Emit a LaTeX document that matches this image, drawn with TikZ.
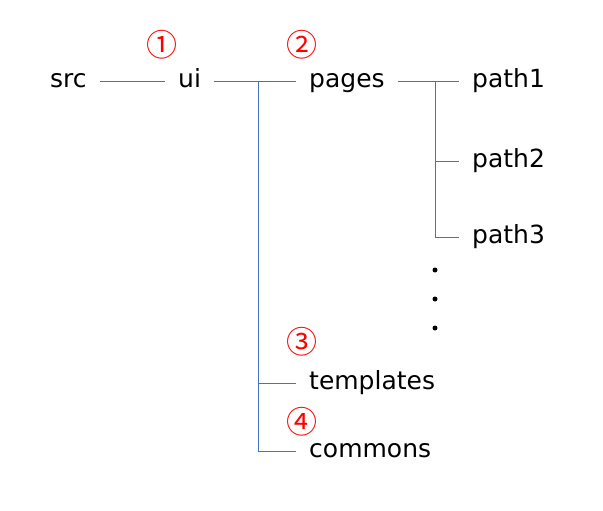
\documentclass[tikz,border=0pt]{standalone}
\usepackage{fontspec}
\setmainfont{DejaVu Sans}
\newfontfamily\cjk{Noto Sans CJK JP}
\usetikzlibrary{positioning}
\definecolor{link}{HTML}{4472C4}
\definecolor{numred}{HTML}{FF0000}

\begin{document}
\begin{tikzpicture}[
  x=1pt, y=-1pt,
  dir/.style={anchor=west, inner xsep=13pt, inner ysep=0pt,
              text height=13.5pt, text depth=0pt,
              font=\fontsize{25}{30}\selectfont},
  num/.style={text=numred, inner sep=0pt, font=\cjk\fontsize{31}{34}\selectfont},
  ln/.style={draw=link, line width=0.8pt},
  dot/.style={circle, fill=black, inner sep=0pt, minimum size=5pt}
]
\useasboundingbox (0,0) rectangle (603,511);

% ================= top row =================
\node[dir] (src)   at (37, 81)  {src};
\node[dir] (ui)    at (165, 81) {ui};
\node[dir] (pages) at (296, 81) {pages};
\node[dir] (path1) at (459, 81) {path1};

% --- branches of pages ---
\node[dir] (path2) at (459, 161) {path2};
\node[dir] (path3) at (459, 237) {path3};
\foreach \i/\y in {1/270, 2/299, 3/328} {\node[dot] (more\i) at (435, \y) {};}

% --- branches of ui ---
\node[dir] (templates) at (296, 383) {templates};
\node[dir] (commons)   at (296, 451) {commons};

% ================= connectors =================
\coordinate (uiJ)    at (258, 81);
\coordinate (pagesJ) at (435, 81);

\draw[ln] (src) -- (ui);
\draw[ln] (ui) -- (pages);
\draw[ln] (uiJ) |- (commons.west);
\draw[ln] (uiJ |- templates.west) -- (templates);

\draw[ln] (pages) -- (path1);
\draw[ln] (pagesJ) |- (path3.west);
\draw[ln] (pagesJ |- path2.west) -- (path2);

% ================= markers =================
\node[num] (mark1) at (162, 45)  {①};
\node[num] (mark2) at (302, 45)  {②};
\node[num] (mark3) at (302, 342) {③};
\node[num] (mark4) at (302, 422) {④};

\end{tikzpicture}
\end{document}
